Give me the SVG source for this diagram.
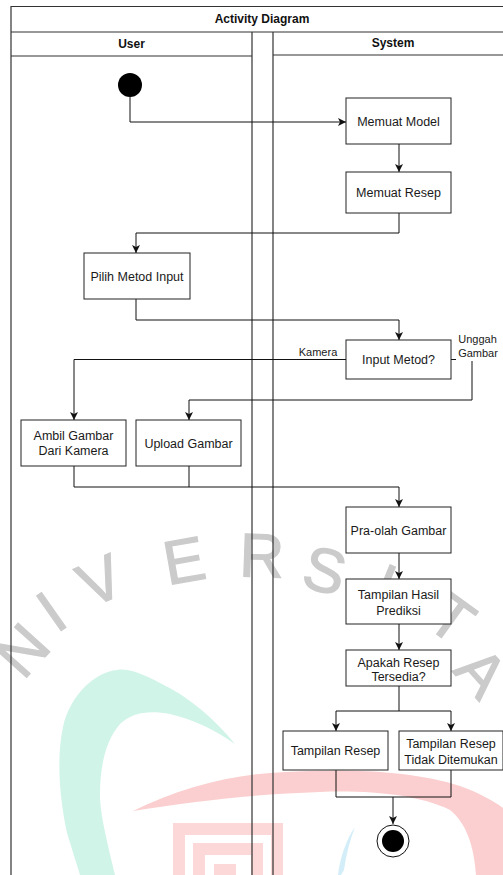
<svg xmlns="http://www.w3.org/2000/svg" width="503" height="875" viewBox="0 0 503 875">
  <style>
    .lane { fill: none; stroke: #333; stroke-width: 1.2; }
    .box { fill: #fff; stroke: #222; stroke-width: 1; }
    .lbl { font-family: "Liberation Sans", Arial, sans-serif; font-size: 12.5px; fill: #1a1a1a; text-anchor: middle; }
    .hdr { font-family: "Liberation Sans", Arial, sans-serif; font-size: 12px; font-weight: bold; fill: #111; text-anchor: middle; }
    .edge { font-family: "Liberation Sans", Arial, sans-serif; font-size: 11px; fill: #1a1a1a; text-anchor: middle; }
    .wm { font-family: "Liberation Sans", Arial, sans-serif; font-size: 62px; fill: #cbcbcb; stroke: #cbcbcb; stroke-width: 1.2; text-anchor: middle; }
    .conn { fill: none; stroke: #111; stroke-width: 1; }
  </style>
  <defs>
    <marker id="arr" viewBox="-9 -5 10 10" refX="0" refY="0" markerWidth="10" markerHeight="10" orient="auto" markerUnits="userSpaceOnUse">
      <path d="M0,0 L-8,-4 L-6,0 L-8,4 Z" fill="#111"/>
    </marker>
  </defs>

  <rect width="503" height="875" fill="#fff"/>

  <!-- background logo watermark -->
  <g id="watermark">
    <text class="wm" transform="translate(22,650) rotate(-48)" y="22">N</text>
    <text class="wm" transform="translate(51,611) rotate(-35)" y="22">I</text>
    <text class="wm" transform="translate(100,580) rotate(-24)" y="22">V</text>
    <text class="wm" transform="translate(184,560) rotate(-10)" y="22">E</text>
    <text class="wm" transform="translate(262,555) rotate(2)" y="22">R</text>
    <text class="wm" transform="translate(325,570) rotate(14)" y="22">S</text>
    <text class="wm" transform="translate(385,585) rotate(22)" y="22">I</text>
    <text class="wm" transform="translate(452,618) rotate(36)" y="22">T</text>
    <text class="wm" transform="translate(482,672) rotate(48)" y="22">A</text>
    <!-- mint crescent -->
    <path d="M235,744 C215,720 190,697 160,683 C140,672 125,668 117,670 C95,672 70,695 63,727 C56,760 60,800 67,833 L80,875 L115,875 C108,845 100,815 100,795 C100,765 106,740 120,724 C132,712 150,710 170,714 C195,720 215,730 235,744 Z" fill="#d1f4e8"/>
    <!-- red arc -->
    <path d="M133,811 C175,790 225,776 270,773 C340,768 410,770 460,786 C480,793 495,802 503,808 L503,875 L476,875 C474,845 466,823 450,810 C420,795 370,790 320,792 C260,794 200,800 133,811 Z" fill="#fbcfcf"/>
    <!-- red square spiral -->
    <path d="M179,875 V829 H277 V875 M199,875 V849 H257 V875" fill="none" stroke="#fdd8d8" stroke-width="12"/>
    <rect x="214" y="864" width="22" height="11" fill="#fdd8d8"/>
    <!-- light blue sliver -->
    <path d="M355,827 C350,840 346,855 344,870 L341,875 L338,875 C340,858 346,840 355,827 Z" fill="#d3eef9"/>
  </g>

  <!-- swimlanes -->
  <g id="lanes">
    <path class="lane" d="M11,875 V6.5 H503"/>
    <path class="lane" d="M11,32 H503"/>
    <path class="lane" d="M11,56 H252"/>
    <path class="lane" d="M273,55 H503"/>
    <path class="lane" d="M252,32 V875 M273,32 V875"/>
    <text class="hdr" x="262" y="23">Activity Diagram</text>
    <text class="hdr" x="131.5" y="47.5">User</text>
    <text class="hdr" x="393" y="47">System</text>
  </g>

  <!-- connectors -->
  <g id="connectors">
    <path class="conn" d="M130,97 V122 H346" marker-end="url(#arr)"/>
    <path class="conn" d="M399,144 V172" marker-end="url(#arr)"/>
    <path class="conn" d="M399,213 V233 H136 V253" marker-end="url(#arr)"/>
    <path class="conn" d="M136,299 V320 H399 V340" marker-end="url(#arr)"/>
    <path class="conn" d="M346,359.5 H74 V420" marker-end="url(#arr)"/>
    <path class="conn" d="M451,359.5 H472 V400 H189 V420" marker-end="url(#arr)"/>
    <path class="conn" d="M74,466 V487 H399 V507" marker-end="url(#arr)"/>
    <path class="conn" d="M189,466 V487"/>
    <path class="conn" d="M399,553 V579" marker-end="url(#arr)"/>
    <path class="conn" d="M399,624 V650" marker-end="url(#arr)"/>
    <path class="conn" d="M399,686 V711 H336 V731" marker-end="url(#arr)"/>
    <path class="conn" d="M399,711 H451 V731" marker-end="url(#arr)"/>
    <path class="conn" d="M336,770 V797 H451 V770"/>
    <path class="conn" d="M393,797 V824" marker-end="url(#arr)"/>
    <!-- edge labels -->
    <rect x="297" y="345" width="42" height="13" fill="#fff"/>
    <text class="edge" x="318" y="356">Kamera</text>
    <rect x="456" y="332" width="45" height="29" fill="#fff"/>
    <text class="edge" x="477.5" y="343">Unggah</text>
    <text class="edge" x="478" y="357">Gambar</text>
  </g>

  <!-- nodes -->
  <g id="start"><circle cx="130" cy="85" r="12" fill="#000"/></g>
  <g id="memuat-model"><rect class="box" x="346" y="98" width="105" height="46"/><text class="lbl" x="398.5" y="125.5">Memuat Model</text></g>
  <g id="memuat-resep"><rect class="box" x="346" y="172" width="105" height="41"/><text class="lbl" x="398.5" y="196.5">Memuat Resep</text></g>
  <g id="pilih-metod"><rect class="box" x="84" y="253" width="106" height="46"/><text class="lbl" x="137" y="280.5">Pilih Metod Input</text></g>
  <g id="input-metod"><rect class="box" x="346" y="340" width="105" height="39"/><text class="lbl" x="398.5" y="364">Input Metod?</text></g>
  <g id="ambil-gambar"><rect class="box" x="21" y="420" width="105" height="46"/><text class="lbl" x="73.5" y="439.5">Ambil Gambar</text><text class="lbl" x="73.5" y="455">Dari Kamera</text></g>
  <g id="upload-gambar"><rect class="box" x="136" y="420" width="105" height="46"/><text class="lbl" x="188.5" y="447.5">Upload Gambar</text></g>
  <g id="pra-olah"><rect class="box" x="346" y="507" width="105" height="46"/><text class="lbl" x="398.5" y="534.5">Pra-olah Gambar</text></g>
  <g id="hasil-prediksi"><rect class="box" x="346" y="579" width="105" height="45"/><text class="lbl" x="398.5" y="598.5">Tampilan Hasil</text><text class="lbl" x="398.5" y="614.5">Prediksi</text></g>
  <g id="resep-tersedia"><rect class="box" x="346" y="650" width="105" height="36"/><text class="lbl" x="398.5" y="666.5">Apakah Resep</text><text class="lbl" x="398.5" y="681">Tersedia?</text></g>
  <g id="tampilan-resep"><rect class="box" x="283" y="731" width="105" height="39"/><text class="lbl" x="335.5" y="755">Tampilan Resep</text></g>
  <g id="resep-tidak-ditemukan"><rect class="box" x="399" y="731" width="104" height="39"/><text class="lbl" x="451" y="747.5">Tampilan Resep</text><text class="lbl" x="451" y="763.5">Tidak Ditemukan</text></g>
  <g id="end"><circle cx="393" cy="841" r="16" fill="#fff" stroke="#111" stroke-width="1"/><circle cx="393" cy="841" r="11" fill="#000"/></g>
</svg>
